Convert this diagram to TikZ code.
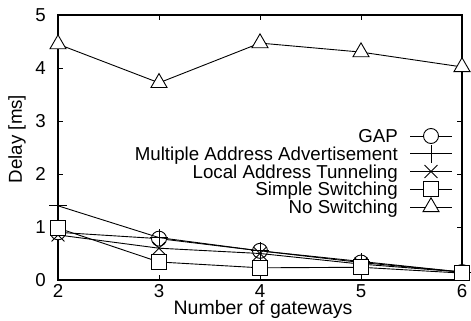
\documentclass[tikz,border=0pt]{standalone}
\usepackage{fontspec}
\setmainfont{Liberation Sans}
\usetikzlibrary{shapes.geometric,shapes.misc}
\begin{document}
\begin{tikzpicture}[x=1pt,y=1pt,
  txt/.style={font=\fontsize{18.7}{22}\selectfont, inner sep=0pt},
  bigtxt/.style={font=\fontsize{19.5}{23}\selectfont, inner sep=0pt},
  frame/.style={line width=1.5pt},
  dline/.style={line width=0.9pt},
  circm/.style={circle, draw, fill=white, line width=0.9pt, minimum size=15pt, inner sep=0pt},
  sqm/.style={rectangle, draw, fill=white, line width=0.9pt, minimum size=15pt, inner sep=0pt},
  trim/.style={regular polygon, regular polygon sides=3, draw, fill=white, line width=0.9pt, minimum size=18.5pt, inner sep=0pt},
  plusm/.style={cross out, draw, rotate=45, line width=0.9pt, minimum size=11.5pt, inner sep=0pt},
  xm/.style={cross out, draw, line width=0.9pt, minimum size=12pt, inner sep=0pt}]
\useasboundingbox (0,0) rectangle (471,321);
\begin{scope}[shift={(58,41)}, x=101pt, y=53pt]
  % frame
  \coordinate (ll) at (0,0);
  \coordinate (ur) at (4,5);
  \draw[frame] (ll) rectangle (ur);
  % ticks
  \foreach \v in {1,2,3,4} {
    \draw[line width=0.8pt] (0,\v) -- ++(5pt,0);
    \draw[line width=0.8pt] (4,\v) -- ++(-5pt,0);
  }
  \foreach \g in {1,2,3} {
    \draw[line width=0.8pt] (\g,0) -- ++(0,5pt);
    \draw[line width=0.8pt] (\g,5) -- ++(0,-5pt);
  }
  % tick labels
  \foreach \v in {0,1,2,3,4,5} {
    \node[txt, anchor=east] (yl\v) at ([xshift=-12pt]0,\v) {\v};
  }
  \foreach \g [evaluate=\g as \lab using int(\g+2)] in {0,1,2,3,4} {
    \node[txt] (xl\g) at ([yshift=-11pt]\g,0) {\lab};
  }
  % data coordinates
  \foreach \name/\vals in {g/{0.9,0.78,0.55,0.33,0.15},
                            m/{1.4,0.8,0.55,0.35,0.15},
                            t/{0.85,0.6,0.5,0.3,0.15},
                            s/{0.98,0.34,0.23,0.24,0.13},
                            n/{4.45,3.72,4.47,4.3,4.02}} {
    \foreach \v [count=\i from 0] in \vals {
      \coordinate (\name\i) at (\i,\v);
    }
  }
  % GAP
  \draw[dline] (g0) -- (g1) -- (g2) -- (g3) -- (g4);
  \foreach \i in {0,...,4} \node[circm] (gm\i) at (g\i) {};
  % MAA
  \draw[dline] (m0) -- (m1) -- (m2) -- (m3) -- (m4);
  \foreach \i in {0,...,4} \node[plusm] (mm\i) at (m\i) {};
  % LAT
  \draw[dline] (t0) -- (t1) -- (t2) -- (t3) -- (t4);
  \foreach \i in {0,...,4} \node[xm] (tm\i) at (t\i) {};
  % SS
  \draw[dline] (s0) -- (s1) -- (s2) -- (s3) -- (s4);
  \foreach \i in {0,...,4} \node[sqm] (sm\i) at (s\i) {};
  % NS
  \draw[dline] (n0) -- (n1) -- (n2) -- (n3) -- (n4);
  \foreach \i in {0,...,4} \node[trim] (nm\i) at (n\i) {};
\end{scope}
% axis labels
\node[bigtxt, anchor=base] (xlabel) at (263,6) {Number of gateways};
\node[txt, rotate=90] (ylabel) at (17,182) {Delay [ms]};
% legend
\foreach \lab/\y/\st [count=\k] in {GAP/185/circm,
    Multiple Address Advertisement/167.25/plusm,
    Local Address Tunneling/149.5/xm,
    Simple Switching/131.75/sqm,
    No Switching/114/trim} {
  \node[txt, anchor=base east] (lt\k) at (398,\y-6.7) {\lab};
  \coordinate (la\k) at (410,\y);
  \coordinate (lb\k) at (452,\y);
  \draw[dline] (la\k) -- (lb\k);
  \node[\st] (lm\k) at (431,\y) {};
}
\end{tikzpicture}
\end{document}
